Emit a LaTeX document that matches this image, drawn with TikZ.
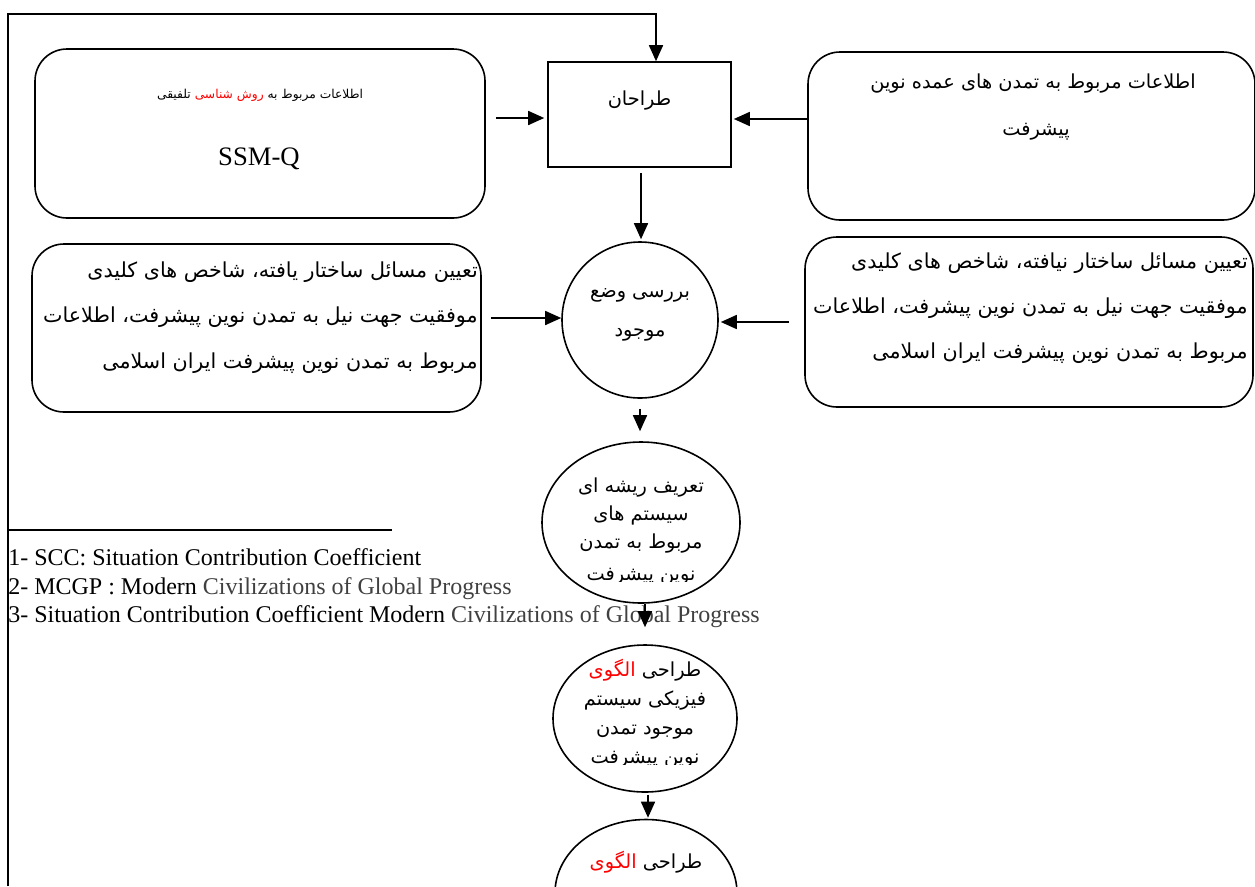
\documentclass[tikz,border=0pt]{standalone}
\usepackage{fontspec}
\setmainfont{Liberation Serif}
\newfontfamily\fa[Script=Arabic]{DejaVu Sans}
\TeXXeTstate=1
\usetikzlibrary{arrows.meta,calc,shapes.geometric}
\definecolor{footgray}{HTML}{404040}
\newcommand{\RL}[1]{\beginR #1\endR}
\begin{document}
\begin{tikzpicture}[x=0.75pt,y=-0.75pt,
  box/.style={draw,line width=1.2pt,rounded corners=24pt,inner sep=0pt},
  rbox/.style={draw,line width=1.2pt,inner sep=0pt},
  circ/.style={draw,line width=1.2pt,ellipse,inner sep=0pt},
  arr/.style={line width=1.2pt,-{Triangle[length=12pt,width=10.5pt]}},
  fat/.style={font=\fa\fontsize{15.5}{18}\selectfont,inner sep=0pt},
  fae/.style={font=\fa\fontsize{14.5}{17}\selectfont,inner sep=0pt,anchor=base},
  fasmall/.style={font=\fa\fontsize{9.2}{11}\selectfont,inner sep=0pt},
  foot/.style={font=\fontsize{18}{21}\selectfont,inner sep=0pt,anchor=base west},
  line/.style={line width=1.2pt}]
\useasboundingbox (0,0) rectangle (1255,886);

% shapes
\node[box,minimum width=337.5pt,minimum height=126.75pt] (tl) at (260,133.5) {};
\node[rbox,minimum width=137.25pt,minimum height=78.75pt] (d) at (639.5,114.5) {};
\node[box,minimum width=335.25pt,minimum height=126pt] (tr) at (1031.5,136) {};
\node[circ,minimum width=117pt,minimum height=117pt] (c1) at (640,320) {};
\node[box,minimum width=336.75pt,minimum height=126pt] (ml) at (256.5,328) {};
\node[box,minimum width=336pt,minimum height=127.5pt] (mr) at (1029,322) {};
\node[circ,minimum width=148.5pt,minimum height=120.75pt] (e3) at (641,522.5) {};
\node[circ,minimum width=138pt,minimum height=110.25pt] (e4) at (645,718.5) {};
\node[circ,minimum width=136.5pt,minimum height=110.25pt] (e5) at (646,893) {};

% texts
\node[fasmall,anchor=base] (tlt1) at (260,98) {\RL{تلفیقی} \textcolor{red}{\RL{روش شناسی}} \RL{اطلاعات مربوط به}};
\node[font=\fontsize{20}{24}\selectfont,inner sep=0pt,anchor=base] (tlt2) at (259,165) {SSM-Q};
\node[fae] (dt) at (639.5,105) {\RL{طراحان}};
\node[fae] (trt1) at (1033,88) {\RL{اطلاعات مربوط به تمدن های عمده نوین}};
\node[fae] (trt2) at (1036,135) {\RL{پیشرفت}};
\node[fae] (c1t1) at (640,297) {\RL{بررسی وضع}};
\node[fae] (c1t2) at (640,336) {\RL{موجود}};
\node[fat,anchor=base east] (mlt1) at (478,277) {\RL{تعیین مسائل ساختار یافته، شاخص های کلیدی}};
\node[fat,anchor=base east] (mlt2) at (478,322) {\RL{موفقیت جهت نیل به تمدن نوین پیشرفت، اطلاعات}};
\node[fat,anchor=base east] (mlt3) at (478,368) {\RL{مربوط به تمدن نوین پیشرفت ایران اسلامی}};
\node[fat,anchor=base east] (mrt1) at (1248,268) {\RL{تعیین مسائل ساختار نیافته، شاخص های کلیدی}};
\node[fat,anchor=base east] (mrt2) at (1248,313) {\RL{موفقیت جهت نیل به تمدن نوین پیشرفت، اطلاعات}};
\node[fat,anchor=base east] (mrt3) at (1248,358) {\RL{مربوط به تمدن نوین پیشرفت ایران اسلامی}};

\node[fae] (e3t1) at (641,492) {\RL{تعریف ریشه ای}};
\node[fae] (e3t2) at (641,520) {\RL{سیستم های}};
\node[fae] (e3t3) at (641,548) {\RL{مربوط به تمدن}};
\begin{scope}
\clip (540,555) rectangle (745,581);
\node[fae] (e3t4) at (641,580) {\RL{نوین پیشرفت}};
\end{scope}

\node[fae] (e4t1) at (645,676) {\textcolor{red}{\RL{الگوی}} \RL{طراحی}};
\node[fae] (e4t2) at (645,705) {\RL{فیزیکی سیستم}};
\node[fae] (e4t3) at (645,734) {\RL{موجود تمدن}};
\begin{scope}
\clip (550,740) rectangle (740,764);
\node[fae] (e4t4) at (645,763) {\RL{نوین پیشرفت}};
\end{scope}
\node[fae] (e5t1) at (646,868) {\textcolor{red}{\RL{الگوی}} \RL{طراحی}};

% footnotes
\draw[line] (8,530) -- (392,530);
\node[foot] (f1) at (8,565) {1- SCC: Situation Contribution Coefficient};
\node[foot] (f2) at (8,594) {2- MCGP : Modern \textcolor{footgray}{Civilizations of Global Progress}};
\node[foot] (f3) at (8,622) {3- Situation Contribution Coefficient Modern \textcolor{footgray}{Civilizations of Global Progress}};

% connectors
\coordinate (fb0) at (8,886);
\coordinate (fb1) at (8,14);
\coordinate (fb2) at (656,14);
\draw[arr] (fb0) -- (fb1) -- (fb2) -- ($(d.north)+(16.5,0)$);
\draw[arr] ($(tl.east)+(10,-15.5)$) -- ($(d.west)+(-3,3.5)$);
\draw[arr] ($(tr.west)+(0,-17)$) -- ($(d.east)+(2,4.5)$);
\draw[arr] ($(d.south)+(1.5,5)$) -- ($(c1.north)+(1,-2)$);
\draw[arr] ($(ml.east)+(9,-10)$) -- ($(c1.west)+(0,-2)$);
\draw[arr] ($(mr.west)+(-15,0)$) -- ($(c1.east)+(2,2)$);
\draw[arr] ($(c1.south)+(0,10)$) -- ($(e3.north)+(-1,-10)$);
\draw[arr] ($(e3.south)+(4,0)$) -- ($(e4.north)+(0,-17)$);
\draw[arr] ($(e4.south)+(3,2)$) -- ($(e5.north)+(2,-1)$);
\end{tikzpicture}
\end{document}
